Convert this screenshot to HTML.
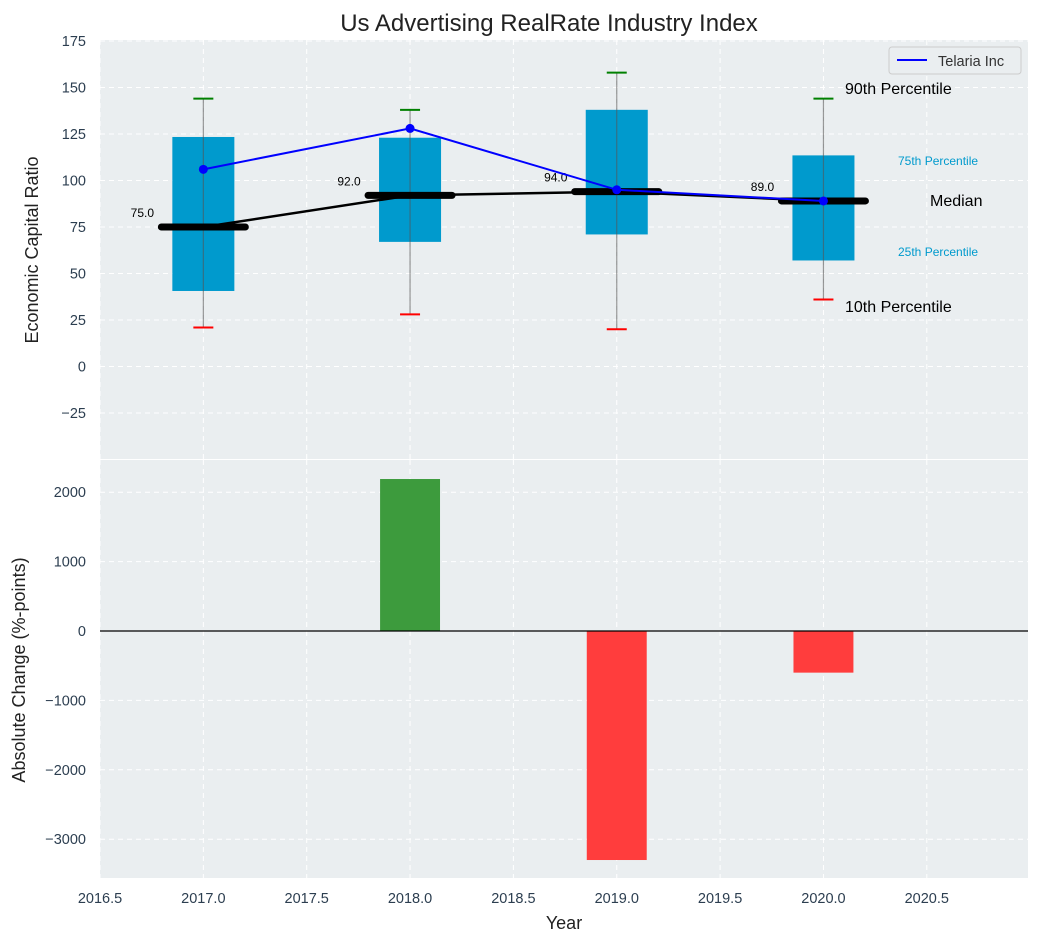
<!DOCTYPE html>
<html><head><meta charset="utf-8">
<style>
body{margin:0;background:#fff;}
svg{display:block;font-family:"Liberation Sans","DejaVu Sans",sans-serif;}
</style></head>
<body>
<svg id="chart" width="1039" height="942" xmlns="http://www.w3.org/2000/svg"></svg>
<script>
const years=[2017,2018,2019,2020];
const q1=[40.6,67,71,57];
const q3=[123.4,123,138,113.5];
const p10=[21,28,20,36];
const p90=[144,138,158,144];
const medians=[75,92,94,89];
const telaria=[106,128,95,89];
const changes=[0,2190,-3300,-600];
const xTicks=[2016.5,2017.0,2017.5,2018.0,2018.5,2019.0,2019.5,2020.0,2020.5];
const yTopTicks=[-25,0,25,50,75,100,125,150,175];
const yBotTicks=[-3000,-2000,-1000,0,1000,2000];

const NS="http://www.w3.org/2000/svg";
const svg=document.getElementById('chart');
function el(t,a,p){const e=document.createElementNS(NS,t);for(const k in a)e.setAttribute(k,a[k]);(p||svg).appendChild(e);return e;}
const L=100,R=1028;
const X=v=>L+(v-2016.5)*206.7;
const T0=40,T1=459;
const YT=v=>366.5-(v)*1.86;
const B0=460,B1=878;
const YB=v=>631-v*0.0694;

let bg=el('rect',{x:L,y:T0,width:R-L,height:T1-T0,fill:'#eaeef0'});

let bg2=el('rect',{x:L,y:B0,width:R-L,height:B1-B0,fill:'#eaeef0'});


xTicks.forEach(t=>{
  el('line',{x1:X(t),x2:X(t),y1:T0,y2:T1,stroke:'#fff','stroke-dasharray':'5,4','stroke-width':1});
  el('line',{x1:X(t),x2:X(t),y1:B0,y2:B1,stroke:'#fff','stroke-dasharray':'5,4','stroke-width':1});
  const tx=el('text',{x:X(t),y:903,'font-size':14.5,fill:'#2c3e50','text-anchor':'middle'});tx.textContent=t.toFixed(1);
  
});
yTopTicks.forEach(t=>{
  el('line',{x1:L,x2:R,y1:YT(t),y2:YT(t),stroke:'#fff','stroke-dasharray':'5,4','stroke-width':1});
  const tx=el('text',{x:86,y:YT(t)+5,'font-size':14.5,fill:'#2c3e50','text-anchor':'end'});tx.textContent=t<0?'\u2212'+(-t):t;
  
});
yBotTicks.forEach(t=>{
  el('line',{x1:L,x2:R,y1:YB(t),y2:YB(t),stroke:'#fff','stroke-dasharray':'5,4','stroke-width':1});
  const tx=el('text',{x:86,y:YB(t)+5,'font-size':14.5,fill:'#2c3e50','text-anchor':'end'});tx.textContent=t<0?'\u2212'+(-t):t;
  
});

years.forEach((y,i)=>{
  const cx=X(y),w=0.3*206.7;
  const b=el('rect',{x:cx-w/2,y:YT(q3[i]),width:w,height:YT(q1[i])-YT(q3[i]),fill:'#009ACD'});
  
  el('line',{x1:cx,x2:cx,y1:YT(p90[i]),y2:YT(p10[i]),stroke:'#555','stroke-opacity':0.6,'stroke-width':1.2});
  const c1=el('line',{x1:cx-10,x2:cx+10,y1:YT(p90[i]),y2:YT(p90[i]),stroke:'green','stroke-width':2});
  
  const c2=el('line',{x1:cx-10,x2:cx+10,y1:YT(p10[i]),y2:YT(p10[i]),stroke:'red','stroke-width':2});
  
});
let mp=el('polyline',{points:years.map((y,i)=>X(y)+','+YT(medians[i])).join(' '),fill:'none',stroke:'#000','stroke-width':2.5});

years.forEach((y,i)=>{
  const m=el('line',{x1:X(y)-42,x2:X(y)+42,y1:YT(medians[i]),y2:YT(medians[i]),stroke:'#000','stroke-width':7,'stroke-linecap':'round'});
  
  const t=el('text',{x:X(y)-61,y:YT(medians[i])-10,'font-size':12,fill:'#000','text-anchor':'middle'});t.textContent=medians[i].toFixed(1);
  
});
let tl=el('polyline',{points:years.map((y,i)=>X(y)+','+YT(telaria[i])).join(' '),fill:'none',stroke:'blue','stroke-width':2});

years.forEach((y,i)=>{const c=el('circle',{cx:X(y),cy:YT(telaria[i]),r:4.5,fill:'blue'});
  });

const ann=[[845,94,'90th Percentile',16,'#000'],[898,165,'75th Percentile',12,'#009ACD'],[930,206,'Median',16,'#000'],[898,256,'25th Percentile',12,'#009ACD'],[845,312,'10th Percentile',16,'#000']];
ann.forEach(a=>{const t=el('text',{x:a[0],y:a[1],'font-size':a[3],fill:a[4]});t.textContent=a[2];
  });

const lg=el('g',{});
el('rect',{x:889,y:47,width:132,height:27,fill:'#eaeef0',stroke:'#ccc',rx:3},lg);
el('line',{x1:897,x2:927,y1:60,y2:60,stroke:'blue','stroke-width':2},lg);
const lt=el('text',{x:938,y:66,'font-size':14.5,fill:'#333'},lg);lt.textContent='Telaria Inc';

years.forEach((y,i)=>{
  const v=changes[i];if(v===0)return;const w=0.29*206.7;
  const b=el('rect',{x:X(y)-w/2,y:Math.min(YB(v),YB(0)),width:w,height:Math.abs(YB(v)-YB(0)),fill:v>0?'#3d9b3d':'#ff3d3d'});
  
});
el('line',{x1:L,x2:R,y1:YB(0),y2:YB(0),stroke:'#000','stroke-width':1.2});

let ti=el('text',{x:549,y:31,'font-size':24,fill:'#222','text-anchor':'middle'});ti.textContent='Us Advertising RealRate Industry Index';

let yt=el('text',{x:38,y:250,'font-size':18,fill:'#222','text-anchor':'middle',transform:'rotate(-90 38 250)'});yt.textContent='Economic Capital Ratio';

let yb=el('text',{x:25,y:670,'font-size':18,fill:'#222','text-anchor':'middle',transform:'rotate(-90 25 670)'});yb.textContent='Absolute Change (%-points)';

let xt=el('text',{x:564,y:929,'font-size':18,fill:'#222','text-anchor':'middle'});xt.textContent='Year';

</script>
</body></html>
